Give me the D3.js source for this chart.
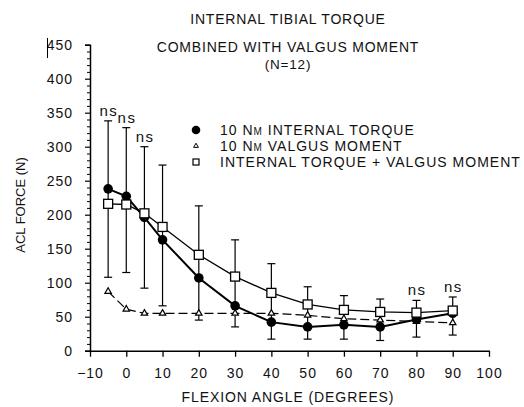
<!DOCTYPE html>
<html><head><meta charset="utf-8">
<script src="https://cdn.jsdelivr.net/npm/d3@7"></script>
<style>
body{margin:0;background:#fff;}
svg{display:block;}
text{font-family:"Liberation Sans",Arial,sans-serif;fill:#111;}
</style></head>
<body><svg id="c" width="524" height="407"></svg>
<script>
const angles = [-5,0,5,10,20,30,40,50,60,70,80,90];
const internalTorque = [238,227,196,163,107,66,42,35,38,35,46,55];
const valgusMoment = [87,61,55,55,55,55,55,52,47,45,43,41];
const combined = [216,215,202,182,141,109,85,68,60,57,56,59];
const errUpper = [338,328,300,273,213,163,128,94,81,76,74,79];
const errLower = [108,115,92,66,45,35,17,17,17,15,20,23];
const nsAngles = [-5,0,5,80,90];
const xTicks = [-10,0,10,20,30,40,50,60,70,80,90,100];
const yTicks = [0,50,100,150,200,250,300,350,400,450];
const titleLines = ["INTERNAL TIBIAL TORQUE","COMBINED WITH VALGUS MOMENT","(N=12)"];

const svg = d3.select("#c");
const x = d3.scaleLinear().domain([-10,100]).range([90,489]);
const y = d3.scaleLinear().domain([0,450]).range([350.7,44.7]);

// titles
const tY = [24,52,69];
titleLines.forEach((t,i)=>{
  svg.append("text").attr("x",288).attr("y",tY[i]).attr("text-anchor","middle")
    .style("font-size", i===2 ? "13.5px" : "14px").style("letter-spacing","0.8px").text(t);
});

// y axis
const yAxis = d3.axisLeft(y).tickValues(yTicks).tickSize(5).tickPadding(12);
const gy = svg.append("g").attr("transform","translate(90,0)").call(yAxis);
gy.select(".domain").attr("stroke","#000").attr("stroke-width",1.5);
gy.selectAll(".tick line").attr("stroke","#000").attr("stroke-width",1.2);
gy.selectAll(".tick text").style("font-size","14px").style("letter-spacing","1px")
  .style("font-family","Liberation Sans, Arial, sans-serif").attr("fill","#111");
const minor = d3.range(0,451,10).filter(v=>v%50!==0);
svg.append("g").attr("transform","translate(90,0)")
  .call(d3.axisLeft(y).tickValues(minor).tickSize(3).tickFormat(""))
  .call(g=>g.select(".domain").remove())
  .selectAll("line").attr("stroke","#000").attr("stroke-width",1);

// x axis
const xAxis = d3.axisBottom(x).tickValues(xTicks).tickSize(6).tickPadding(11).tickSizeOuter(0);
const gx = svg.append("g").attr("transform",`translate(0,${y(0)})`).call(xAxis);
gx.select(".domain").attr("stroke","#000").attr("stroke-width",1.6);
gx.selectAll(".tick line").attr("stroke","#000").attr("stroke-width",1.3);
gx.selectAll(".tick text").style("font-size","14px").style("letter-spacing","1px")
  .style("font-family","Liberation Sans, Arial, sans-serif").attr("fill","#111");

// scan artifact bar near 450
svg.append("line").attr("x1",47.5).attr("x2",47.5).attr("y1",38).attr("y2",58).attr("stroke","#000").attr("stroke-width",1);

// axis titles
svg.append("text").attr("x",288).attr("y",402).attr("text-anchor","middle")
  .style("font-size","14px").style("letter-spacing","0.9px").text("FLEXION ANGLE (DEGREES)");
svg.append("text").attr("transform","translate(25,205) rotate(-90)").attr("text-anchor","middle")
  .style("font-size","13px").text("ACL FORCE (N)");

// error bars
const eb = svg.append("g").attr("stroke","#000").attr("stroke-width",1.2);
angles.forEach((a,i)=>{
  const cx = x(a);
  eb.append("line").attr("x1",cx).attr("x2",cx).attr("y1",y(errUpper[i])).attr("y2",y(errLower[i]));
  [errUpper[i],errLower[i]].forEach(v=>{
    eb.append("line").attr("x1",cx-4).attr("x2",cx+4).attr("y1",y(v)).attr("y2",y(v));
  });
});

// ns labels
nsAngles.forEach(a=>{
  const i = angles.indexOf(a);
  svg.append("text").attr("x",x(a)+0.7).attr("y",y(errUpper[i])-5).attr("text-anchor","middle")
    .style("font-size","15px").style("letter-spacing","1.5px").text("ns");
});

// lines
const line = d3.line().x(d=>x(d[0])).y(d=>y(d[1]));
const pts = arr => angles.map((a,i)=>[a,arr[i]]);
svg.append("path").attr("d",line(pts(valgusMoment))).attr("fill","none").attr("stroke","#000")
  .attr("stroke-width",1.2).attr("stroke-dasharray","9,4");
svg.append("path").attr("d",line(pts(combined))).attr("fill","none").attr("stroke","#000").attr("stroke-width",1.3);
svg.append("path").attr("d",line(pts(internalTorque))).attr("fill","none").attr("stroke","#000").attr("stroke-width",2);

// markers
const tri = d3.symbol().type(d3.symbolTriangle).size(18);
svg.append("g").selectAll("path").data(pts(valgusMoment)).join("path")
  .attr("d",tri).attr("transform",d=>`translate(${x(d[0])},${y(d[1])})`)
  .attr("fill","#fff").attr("stroke","#000").attr("stroke-width",1.2);
svg.append("g").selectAll("circle").data(pts(internalTorque)).join("circle")
  .attr("cx",d=>x(d[0])).attr("cy",d=>y(d[1])).attr("r",4.8).attr("fill","#000");
svg.append("g").selectAll("rect").data(pts(combined)).join("rect")
  .attr("x",d=>x(d[0])-4.5).attr("y",d=>y(d[1])-4.5).attr("width",9).attr("height",9)
  .attr("fill","#fff").attr("stroke","#000").attr("stroke-width",1.3);

// legend
const lg = svg.append("g");
lg.append("circle").attr("cx",196).attr("cy",130).attr("r",4.3).attr("fill","#000");
lg.append("path").attr("d",d3.symbol().type(d3.symbolTriangle).size(10)).attr("transform","translate(196,146)")
  .attr("fill","#fff").attr("stroke","#000").attr("stroke-width",1);
lg.append("rect").attr("x",193).attr("y",159).attr("width",6).attr("height",6)
  .attr("fill","#fff").attr("stroke","#000").attr("stroke-width",1.2);
const ls = "1px";
const l1 = lg.append("text").attr("x",220).attr("y",135).style("font-size","14px").style("letter-spacing",ls);
l1.append("tspan").text("10 N"); l1.append("tspan").style("font-size","10px").text("M");
l1.append("tspan").text(" INTERNAL TORQUE");
const l2 = lg.append("text").attr("x",220).attr("y",151).style("font-size","14px").style("letter-spacing",ls);
l2.append("tspan").text("10 N"); l2.append("tspan").style("font-size","10px").text("M");
l2.append("tspan").text(" VALGUS MOMENT");
lg.append("text").attr("x",220).attr("y",167).style("font-size","14px").style("letter-spacing",ls)
  .text("INTERNAL TORQUE + VALGUS MOMENT");
</script></body></html>
